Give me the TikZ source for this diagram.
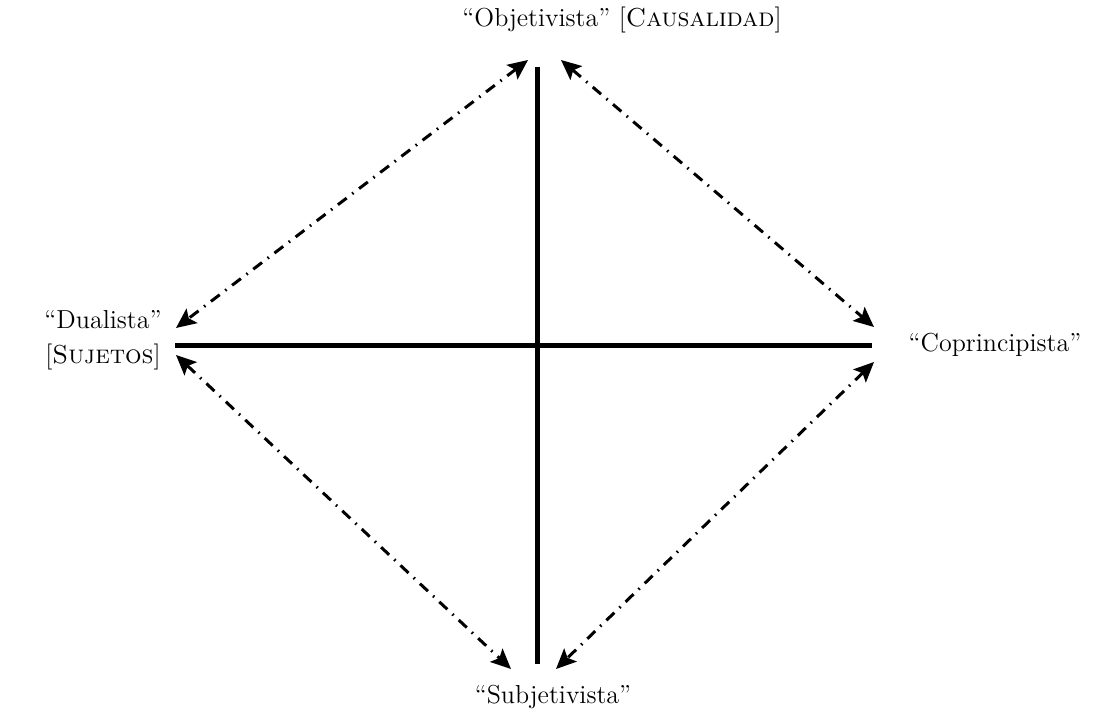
\documentclass[tikz,border=0pt]{standalone}
\usetikzlibrary{arrows.meta}
\begin{document}
\begin{tikzpicture}[x=0.5pt,y=-0.5pt,
  axis/.style={line width=2.5pt},
  rel/.style={line width=1.5pt,dash pattern=on 5.5pt off 3.5pt on 0.8pt off 3.5pt,
    {Stealth[length=10pt,width=9pt,inset=2pt]}-{Stealth[length=10pt,width=9pt,inset=2pt]}},
  lbl/.style={font=\fontsize{13}{15.5}\selectfont,inner sep=0pt,align=center}]
\useasboundingbox (0,0) rectangle (1093,722);
\coordinate (vt) at (537,67);
\coordinate (vb) at (537,664);
\coordinate (hl) at (175,345);
\coordinate (hr) at (872,345);
\draw[axis] (vt) -- (vb);
\draw[axis] (hl) -- (hr);
\node[lbl] (obj) at (622,20) {``Objetivista'' [\textsc{Causalidad}]};
\node[lbl] (dual) at (103,340) {``Dualista''\\[2pt] [\textsc{Sujetos}]};
\node[lbl] (cop) at (995,345) {``Coprincipista''};
\node[lbl] (sub) at (553,697) {``Subjetivista''};
\coordinate (a1) at (528,60);
\coordinate (a2) at (176,328);
\coordinate (b1) at (561,60);
\coordinate (b2) at (874,327);
\coordinate (c1) at (176,355);
\coordinate (c2) at (511,669);
\coordinate (d1) at (874,362);
\coordinate (d2) at (556,669);
\draw[rel] (a1) -- (a2);
\draw[rel] (b1) -- (b2);
\draw[rel] (c1) -- (c2);
\draw[rel] (d1) -- (d2);
\end{tikzpicture}
\end{document}
